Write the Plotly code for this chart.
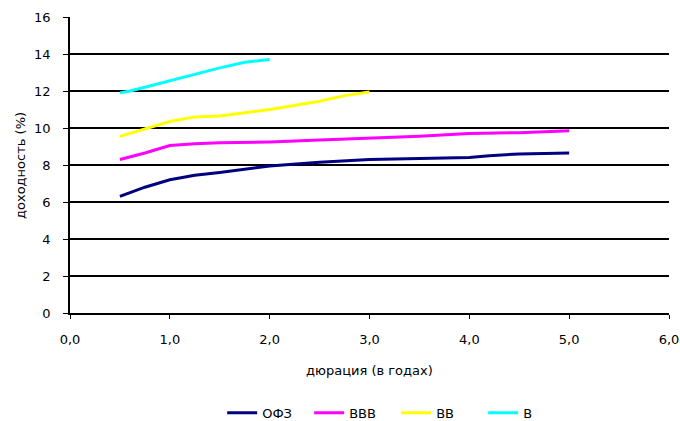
import plotly.graph_objects as go

# Data
ofz_x = [0.5, 0.75, 1.0, 1.25, 1.5, 2.0, 2.5, 3.0, 3.5, 4.0, 4.2, 4.5, 5.0]
ofz_y = [6.3, 6.8, 7.2, 7.45, 7.6, 7.95, 8.15, 8.3, 8.35, 8.4, 8.5, 8.6, 8.65]
bbb_x = [0.5, 0.75, 1.0, 1.25, 1.5, 2.0, 2.5, 3.0, 3.5, 4.0, 4.5, 5.0]
bbb_y = [8.3, 8.65, 9.05, 9.15, 9.2, 9.25, 9.35, 9.45, 9.55, 9.7, 9.75, 9.85]
bb_x = [0.5, 0.75, 1.0, 1.25, 1.5, 2.0, 2.5, 2.75, 3.0]
bb_y = [9.55, 9.95, 10.35, 10.6, 10.65, 11.0, 11.45, 11.75, 11.95]
b_x = [0.5, 0.6, 0.75, 1.0, 1.25, 1.5, 1.75, 2.0]
b_y = [11.9, 12.0, 12.2, 12.55, 12.9, 13.25, 13.55, 13.7]

names = ["ОФЗ", "BBB", "BB", "B"]
colors = ["#000080", "#ff00ff", "#ffff00", "#00ffff"]

x_ticks = [0, 1, 2, 3, 4, 5, 6]
x_ticktext = ["0,0", "1,0", "2,0", "3,0", "4,0", "5,0", "6,0"]
y_ticks = [0, 2, 4, 6, 8, 10, 12, 14, 16]

fig = go.Figure()
for xs, ys, n, c in zip([ofz_x, bbb_x, bb_x, b_x], [ofz_y, bbb_y, bb_y, b_y], names, colors):
    fig.add_trace(go.Scatter(x=xs, y=ys, name=n, mode="lines",
                             line=dict(color=c, width=3)))

font = dict(family="DejaVu Sans, Liberation Sans, sans-serif", size=13, color="black")

fig.update_layout(
    width=680, height=421,
    margin=dict(l=70, r=11, t=17, b=108, autoexpand=False),
    paper_bgcolor="white", plot_bgcolor="white",
    font=font,
    showlegend=True,
    legend=dict(orientation="h", x=0.254, xanchor="left", y=-0.337, yanchor="middle",
                font=font, entrywidth=42, entrywidthmode="pixels",
                tracegroupgap=0, borderwidth=0),
    xaxis=dict(range=[0, 6], tickvals=x_ticks, ticktext=x_ticktext,
               showgrid=False, zeroline=False, showline=True, linecolor="black",
               linewidth=1.5, ticks="outside", ticklen=4, tickcolor="black",
               tickfont=font, ticklabelstandoff=10, automargin=False, fixedrange=True),
    yaxis=dict(range=[0, 16], tickvals=y_ticks, showgrid=True, gridcolor="black",
               gridwidth=1.5, zeroline=False, showline=True, linecolor="black",
               linewidth=1.5, ticks="outside", ticklen=5, tickcolor="black",
               tickfont=font, ticklabelstandoff=10, automargin=False, fixedrange=True),
    annotations=[
        dict(text="дюрация (в годах)", xref="paper", yref="paper", x=0.5, y=-0.194,
             showarrow=False, font=font, xanchor="center", yanchor="middle"),
        dict(text="доходность (%)", xref="paper", yref="paper", x=-0.0835, y=0.5,
             showarrow=False, font=font, textangle=-90, xanchor="center", yanchor="middle"),
    ],
)

fig.write_html("out.html")
